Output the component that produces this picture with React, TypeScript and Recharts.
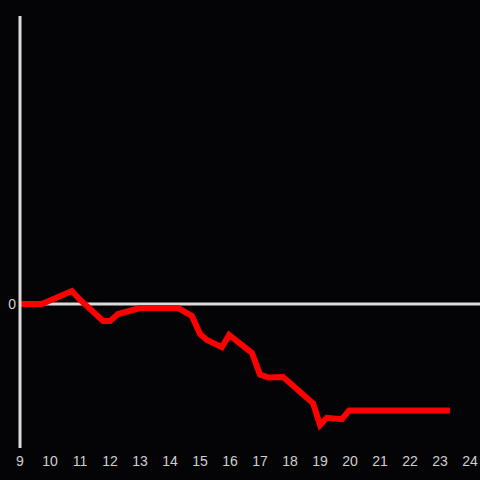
import { LineChart, Line, XAxis, YAxis, ReferenceLine } from 'recharts';

// hour of day vs. value
const hours = [
  9.0, 9.73, 10.73, 11.0, 11.77, 12.0, 12.27, 13.0, 14.27, 14.73, 15.0, 15.23,
  15.73, 15.97, 16.73, 17.0, 17.27, 17.77, 18.77, 19.0, 19.23, 19.73, 19.97, 23.33,
];
const values = [
  0, 0, 0.09, 0.03, -0.118, -0.118, -0.07, -0.028, -0.028, -0.083, -0.208, -0.25,
  -0.3, -0.215, -0.34, -0.49, -0.51, -0.507, -0.69, -0.84, -0.79, -0.8, -0.74, -0.74,
];
const xTicks = [9, 10, 11, 12, 13, 14, 15, 16, 17, 18, 19, 20, 21, 22, 23, 24];
const yTicks = [0];

const data = hours.map((h, i) => ({ hour: h, value: values[i] }));

const axisColor = '#dcdcdc';
const labelStyle = { fill: '#d0d0d0', fontSize: 14, fontFamily: 'Liberation Sans, Arial, sans-serif' };

export default function App() {
  return (
    <div style={{ position: 'absolute', left: 0, top: 0, width: 480, height: 480, background: '#040305' }}>
      <LineChart width={480} height={480} data={data} margin={{ top: 16, right: 0, bottom: 0, left: 0 }}>
        <XAxis
          dataKey="hour"
          type="number"
          domain={[9, 24.333]}
          ticks={xTicks}
          axisLine={false}
          tickLine={false}
          tick={labelStyle}
          height={32}
          interval={0}
        />
        <YAxis
          type="number"
          domain={[-1, 2]}
          ticks={yTicks}
          width={20}
          axisLine={{ stroke: axisColor, strokeWidth: 3 }}
          tickLine={false}
          tickSize={2}
          tickMargin={2}
          tick={labelStyle}
        />
        <ReferenceLine y={0} stroke={axisColor} strokeWidth={3} />
        <Line
          dataKey="value"
          type="linear"
          stroke="#ff0000"
          strokeWidth={6}
          dot={false}
          isAnimationActive={false}
        />
      </LineChart>
    </div>
  );
}
